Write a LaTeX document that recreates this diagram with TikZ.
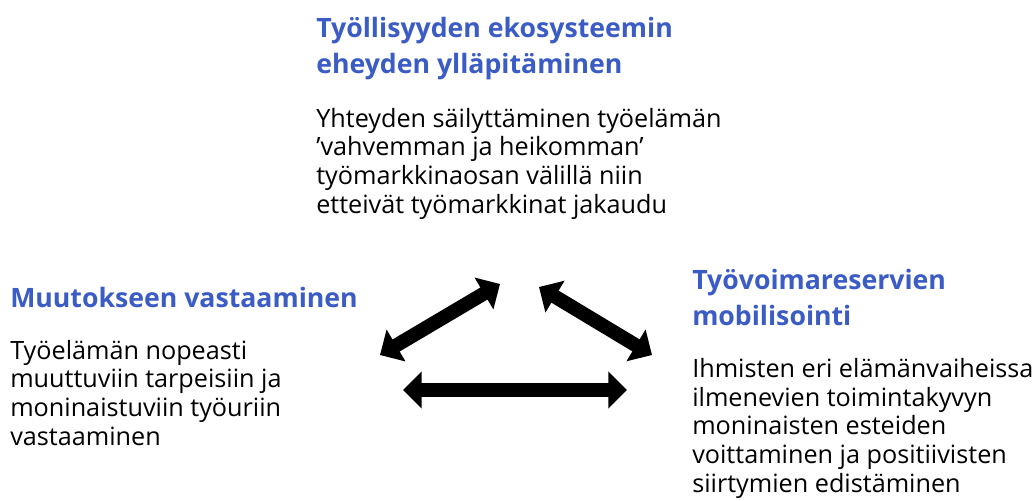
\documentclass[tikz,border=0pt]{standalone}
\usepackage{fontspec}
\setmainfont{Open Sans}
\usetikzlibrary{arrows.meta}
\definecolor{headblue}{RGB}{59,92,196}
\tikzset{
  headtxt/.style={anchor=base west, inner sep=0pt, align=left, text=headblue,
    font=\fontsize{20pt}{27pt}\selectfont\bfseries},
  bodytxt/.style={anchor=base west, inner sep=0pt, align=left, text=black,
    font=\fontsize{18.9pt}{21.5pt}\selectfont},
  bigarrow/.style={line width=10.5pt,
    {Triangle[width=27pt,length=14pt]}-{Triangle[width=27pt,length=14pt]}}
}
\begin{document}
\begin{tikzpicture}[x=0.75pt,y=-0.75pt]
\useasboundingbox (0,0) rectangle (1035,500);
% top (anchors at baseline of last line)
\node[headtxt] (toph) at (316,73) {Työllisyyden ekosysteemin\\eheyden ylläpitäminen};
\node[bodytxt] (topb) at (316,213) {Yhteyden säilyttäminen työelämän\\’vahvemman ja heikomman’\\työmarkkinaosan välillä niin\\etteivät työmarkkinat jakaudu};
% left
\node[headtxt] (lefth) at (10,307) {Muutokseen vastaaminen};
\node[bodytxt] (leftb) at (10,445) {Työelämän nopeasti\\muuttuviin tarpeisiin ja\\moninaistuviin työuriin\\vastaaminen};
% right
\node[headtxt] (righth) at (692,325) {Työvoimareservien\\mobilisointi};
\node[bodytxt] (rightb) at (692,492) {Ihmisten eri elämänvaiheissa\\ilmenevien toimintakyvyn\\moninaisten esteiden\\voittaminen ja positiivisten\\siirtymien edistäminen};
% arrow end points
\coordinate (a1) at (380,355);
\coordinate (a2) at (500,284);
\coordinate (b1) at (539,287);
\coordinate (b2) at (652,355);
\coordinate (c1) at (403,390);
\coordinate (c2) at (627,390);
\draw[bigarrow] (a1) -- (a2);
\draw[bigarrow] (b1) -- (b2);
\draw[bigarrow] (c1) -- (c2);
\end{tikzpicture}
\end{document}
